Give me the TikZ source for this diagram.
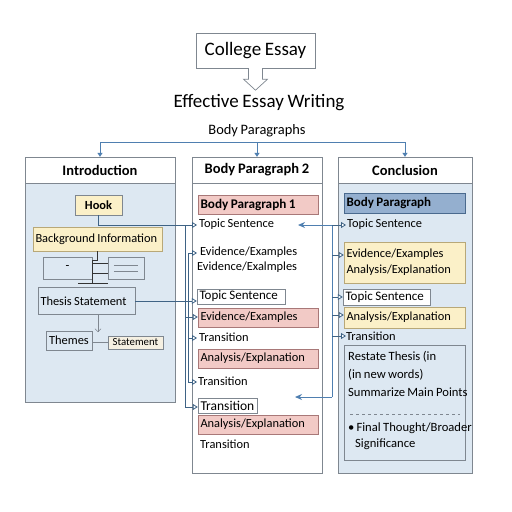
\documentclass[tikz,border=0pt]{standalone}
\usepackage{fontspec}
\setmainfont{Carlito}[WordSpace=0.85]
\usetikzlibrary{arrows.meta}
\definecolor{arrB}{HTML}{4F7FB0}
\definecolor{lineC}{HTML}{3F6385}
\definecolor{paleB}{HTML}{DDE8F2}
\definecolor{yelF}{HTML}{FBF0C8}
\definecolor{yelB}{HTML}{B8A878}
\definecolor{pinkF}{HTML}{F2CAC6}
\definecolor{pinkB}{HTML}{A87878}
\definecolor{bpF}{HTML}{94AFCF}
\definecolor{bpB}{HTML}{4A6A8E}
\definecolor{grayB}{HTML}{7F8790}
\definecolor{creamF}{HTML}{F5F0E2}
\tikzset{
  itemfont/.style={font=\fontsize{12.4}{14}\selectfont},
  lbl/.style={itemfont, inner sep=0pt, anchor=west},
  col/.style={draw=grayB, inner sep=0pt},
  colhead/.style={draw=grayB, fill=white, inner sep=0pt, minimum height=26pt, font=\bfseries\fontsize{14.5}{16}\selectfont},
  bx/.style={itemfont, inner xsep=2.5pt, inner ysep=0pt, align=flush left},
  pinkbx/.style={bx, draw=pinkB, fill=pinkF},
  yelbx/.style={bx, draw=yelB, fill=yelF},
  whitebx/.style={bx, draw=grayB, fill=white},
  conn/.style={lineC, line width=0.8pt},
  openarr/.style={conn, -{Triangle[open, length=5pt, width=6pt, fill=white]}},
  bluearr/.style={arrB, line width=1pt, -{Stealth[length=7pt, width=6pt]}},
  toparr/.style={arrB, line width=1pt, -{Triangle[length=4pt, width=5pt]}},
}
\begin{document}
\begin{tikzpicture}[x=1pt,y=-1pt]
\useasboundingbox[fill=white] (0,0) rectangle (512,512);

% title area
\node[draw=grayB, fill=white, minimum width=119pt, minimum height=35pt, inner sep=0pt, font=\fontsize{19}{21}\selectfont] (college) at (255.5,50.5) {College Essay};
\draw[grayB, fill=white, line width=0.7pt] (college.south) ++(-7,0) -- ++(0,11) -- ++(-5,0) -- ++(12,11) -- ++(12,-11) -- ++(-5,0) -- ++(0,-11);
\node[font=\fontsize{19}{22}\selectfont, inner sep=0pt] (title) at (259,103) {Effective Essay Writing};
\node[font=\fontsize{14.4}{16}\selectfont, inner sep=0pt] (bps) at (257,131) {Body Paragraphs};

% columns
\node[col, fill=paleB, minimum width=150pt, minimum height=245pt] (intro) at (100,279.5) {};
\node[colhead, minimum width=150pt] (introh) at (100,170) {Introduction};
\node[col, fill=white, minimum width=130pt, minimum height=316pt] (body) at (257,315) {};
\node[colhead, minimum width=130pt] (bodyh) at (257,170) {Body Paragraph 2};
\node[col, fill=paleB, minimum width=134pt, minimum height=316pt] (conc) at (405,315) {};
\node[colhead, minimum width=134pt] (conch) at (405,170) {Conclusion};

% top bar
\coordinate (barL) at (100,142);
\coordinate (barM) at (257,142);
\coordinate (barR) at (405,142);
\draw[arrB, line width=1pt] (barL) -- (barR);
\draw[toparr] (barL) -- (introh.north);
\draw[toparr] (barM) -- (bodyh.north);
\draw[toparr] (barR) -- (conch.north);

% introduction items
\node[yelbx, text width=42pt, minimum height=20pt, align=center, font=\bfseries\fontsize{12.4}{14}\selectfont, draw=grayB] (hook) at (98.5,205) {Hook};
\node[yelbx, text width=124pt, minimum height=24pt] (bg) at (97.5,239) {Background Information};
\node[draw=grayB, minimum width=49pt, minimum height=22pt, inner sep=0pt, itemfont] (smallL) at (67.5,268) {-};
\node[draw=grayB, minimum width=36pt, minimum height=22pt, inner sep=0pt] (smallR) at (126,268) {};
\draw[grayB] ([xshift=6pt,yshift=-3pt]smallR.west) -- ([xshift=-6pt,yshift=-3pt]smallR.east);
\draw[grayB] ([xshift=6pt,yshift=3pt]smallR.west) -- ([xshift=-6pt,yshift=3pt]smallR.east);
\node[bx, draw=grayB, text width=92pt, minimum height=27pt] (thesis) at (86.5,301) {Thesis Statement};
\node[bx, draw=grayB, text width=41pt, minimum height=19pt, align=center] (themes) at (69,340.5) {Themes};
\node[bx, draw=grayB, fill=creamF, text width=50pt, minimum height=13pt, align=center, font=\fontsize{10.8}{12}\selectfont] (stmt) at (135.5,342.5) {Statement};

% little tree
\coordinate (t1) at (97,260);
\coordinate (t2) at (92,260);
\coordinate (t3) at (92,283);
\draw[black!80] (bg.south -| t1) -- (t1) -- (t2) -- (t3);
\draw[black!80] (92,263) -- (smallR.west |- 0,263);
\draw[black!80] (92,273) -- (smallR.west |- 0,273);
\draw[black!80] (78,283) -- (smallR.west |- 0,283);
\draw[grayB, -{Straight Barb[length=3pt, width=6pt]}] (thesis.south -| 98,0) -- (98,332);
\draw[grayB] (themes.east |- stmt.west) -- (stmt.west);

% body items
\node[pinkbx, text width=115pt, minimum height=19pt, font=\bfseries\fontsize{13.2}{15}\selectfont] (bp1) at (258,204.5) {Body Paragraph 1};
\node[lbl] (ts1) at (199,224) {Topic Sentence};
\node[lbl] (ev1) at (200,252) {Evidence/Examples};
\node[lbl] (ev2) at (197,267) {Evidence/Exalmples};
\node[whitebx, text width=83pt, minimum height=15pt, font=\fontsize{13}{15}\selectfont] (ts2) at (241,296.5) {Topic Sentence};
\node[pinkbx, text width=115pt, minimum height=19pt] (ev3) at (258,317.5) {Evidence/Examples};
\node[lbl] (tr1) at (199,337) {Transition};
\node[pinkbx, text width=115pt, minimum height=19pt] (an1) at (258,358.5) {Analysis/Explanation};
\node[lbl] (tr2) at (198,381) {Transition};
\node[whitebx, text width=54pt, minimum height=15pt, font=\fontsize{13.5}{15}\selectfont] (tr3) at (227.5,405.5) {Transition};
\node[pinkbx, text width=115pt, minimum height=19pt] (an2) at (258,424.5) {Analysis/Explanation};
\node[lbl] (tr4) at (200,444) {Transition};

% left trunks
\coordinate (A1) at (185,225);
\coordinate (A2) at (185,407);
\coordinate (B1) at (188,253);
\coordinate (B2) at (188,382);
\draw[conn] (A1) -- (A2);
\draw[conn] (B1) -- (B2);
\draw[conn] (hook.south) -- (hook.south |- 0,225) -- (A1);
\draw[openarr] (A1) -- (197,225);
\draw[openarr] (B1) -- (197,253);
\draw[conn] (thesis.east) -- (185,301);
\draw[openarr] (185,301) -- (ts2.west |- 0,301);
\draw[openarr] (185,317) -- (ev3.west |- 0,317);
\draw[openarr] (188,338) -- (197,338);
\draw[openarr] (188,382) -- (197,382);
\draw[openarr] (A2) -- (tr3.west |- A2);

% conclusion items
\node[bx, draw=bpB, fill=bpF, text width=116pt, minimum height=20pt, font=\bfseries\fontsize{13}{15}\selectfont] (cbp) at (404.5,203) {Body Paragraph};
\node[lbl] (cts1) at (347,224) {Topic Sentence};
\node[yelbx, text width=116pt, minimum height=41pt] (cev) at (404.5,262.5) {Evidence/Examples\\[2pt]Analysis/Explanation};
\node[whitebx, text width=82pt, minimum height=16pt, font=\fontsize{13}{15}\selectfont] (cts2) at (386.5,297) {Topic Sentence};
\node[yelbx, text width=116pt, minimum height=21pt] (can) at (404.5,317.5) {Analysis/Explanation};
\node[lbl] (ctr) at (346,336) {Transition};
\node[draw=grayB, fill=paleB, minimum width=121pt, minimum height=115pt, inner sep=0pt] (rest) at (404.5,402.5) {};
\node[lbl, font=\fontsize{12.6}{14}\selectfont] (r1) at (348,357) {Restate Thesis (in};
\node[lbl, font=\fontsize{12.6}{14}\selectfont] (r2) at (348,375) {(in new words)};
\node[lbl, font=\fontsize{12.6}{14}\selectfont] (r3) at (348,392) {Summarize Main Points};
\draw[grayB, dashed] (350,414) -- (460,414);
\node[lbl, font=\fontsize{12.6}{14}\selectfont] (r4) at (348,428) {\textbullet\,Final Thought/Broader};
\node[lbl, font=\fontsize{12.6}{14}\selectfont] (r5) at (355,444) {Significance};

% right bracket and conclusion branches
\coordinate (C1) at (332,225);
\coordinate (C2) at (332,397);
\draw[bluearr] (C1) -- (298,225);
\draw[bluearr] (C2) -- (295,397);
\draw[arrB, line width=1pt] (C1) -- (C2);
\draw[openarr] (C1) -- (346,225);
\draw[openarr] (332,255) -- (cev.west |- 0,255);
\draw[openarr] (332,297) -- (cts2.west);
\draw[openarr] (332,315) -- (can.west |- 0,315);
\draw[openarr] (332,336) -- (346,336);
\end{tikzpicture}
\end{document}
